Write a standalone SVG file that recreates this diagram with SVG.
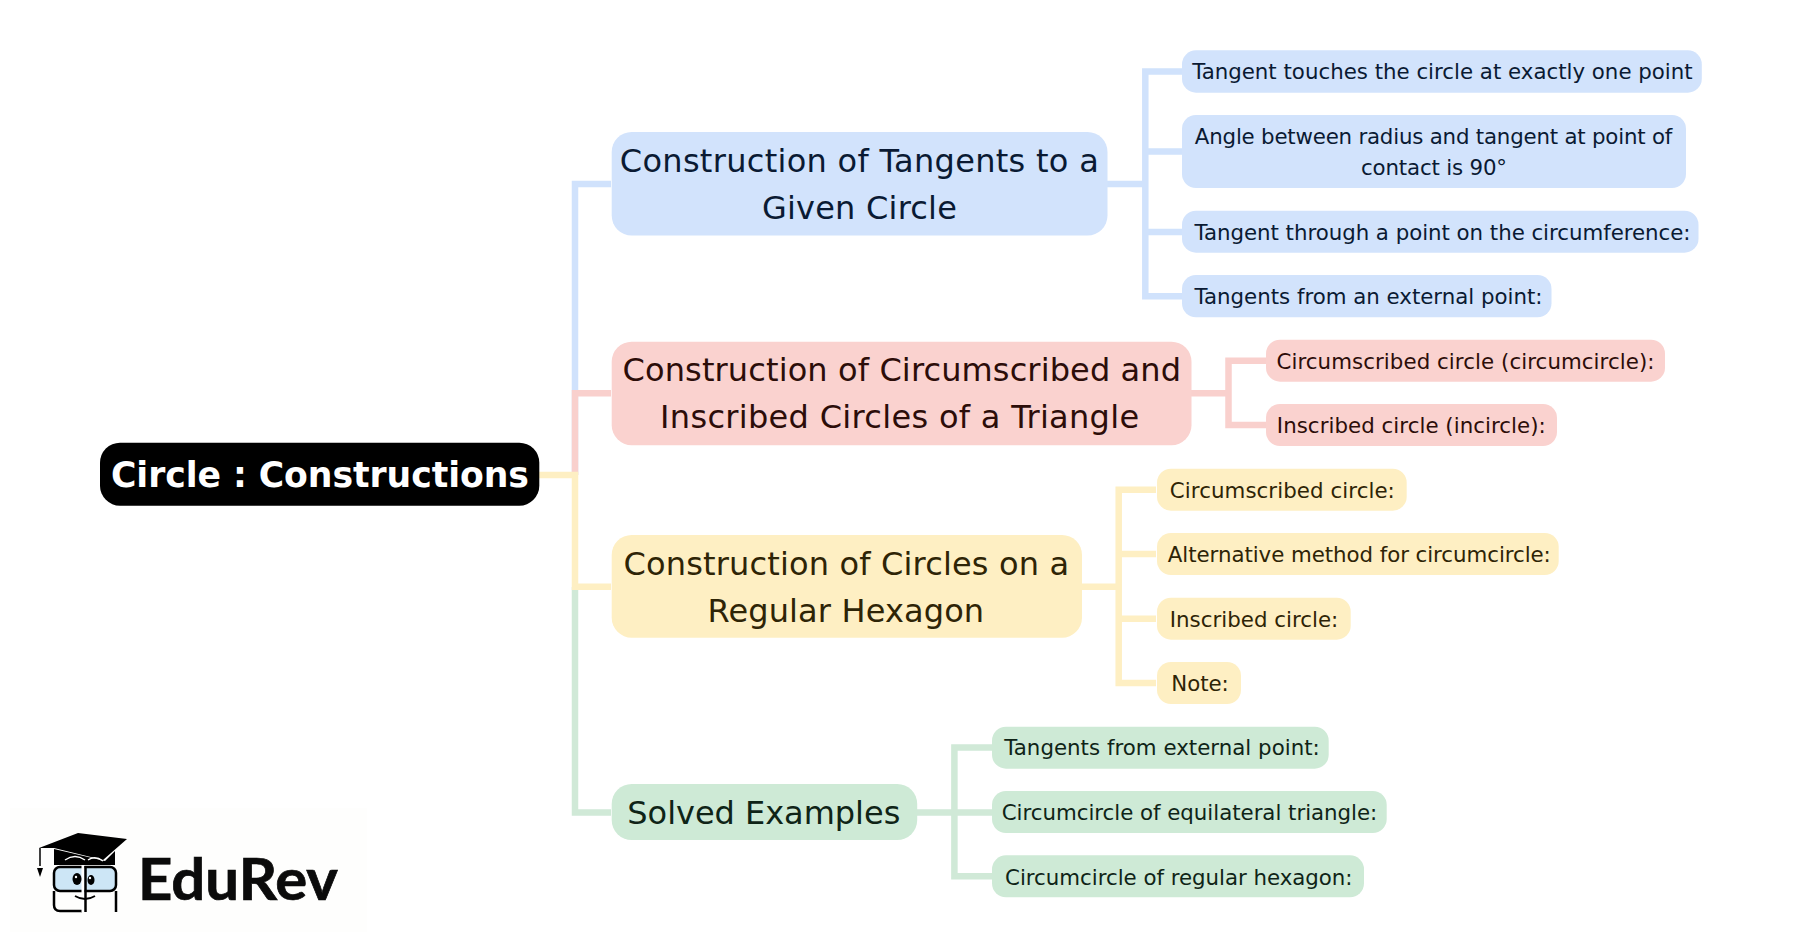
<svg xmlns="http://www.w3.org/2000/svg" width="1802" height="948" viewBox="0 0 1802 948">
<style>
text{font-family:"DejaVu Sans",sans-serif;text-anchor:middle}
.l1{font-size:32px}.l2{font-size:21.33px}
.c{fill:none;stroke-width:6.500}
.c.bl{stroke:#d0e2fc}.c.pk{stroke:#f9d0cd}.c.yl{stroke:#feefc3}.c.gr{stroke:#d0e9d7}
.nb{fill:#d2e3fc}.np{fill:#fad2cf}.ny{fill:#feefc3}.ng{fill:#ceead6}
.tb{fill:#0a1a33}.tp{fill:#2c0d09}.ty{fill:#2e2406}.tg{fill:#0f2417}
</style>
<rect width="1802" height="948" fill="#ffffff"/>
<g id="connectors">
<path class="c bl" d="M575 475V184H611M1107 184H1145.300M1182 71.500H1145.300V296.300H1182M1145.300 151.500H1182M1145.300 232H1182"/>
<path class="c pk" d="M575 475V393.200H611M1191 393.200H1228.500M1266 360.800H1228.500V425H1266"/>
<path class="c gr" d="M575 587V812.500H611M917 812.500H954.400M992 747.500H954.400V876.300H992M954.400 812.500H992"/>
<path class="c yl" d="M539 475H575V586.700H611M1081 586.700H1118.700M1156 489.700H1118.700V683H1156M1118.700 554H1156M1118.700 618.700H1156"/>
</g>
<g id="root"><rect x="100" y="442.700" width="439.300" height="63" rx="20" fill="#000"/><text x="320" y="487" font-size="34.670" font-weight="700" fill="#fff" textLength="418">Circle : Constructions</text></g>
<g id="n1"><rect class="nb" x="611.700" y="132" width="495.800" height="103.500" rx="20"/><text class="l1 tb" x="859.300" y="172" textLength="479">Construction of Tangents to a</text><text class="l1 tb" x="859.400" y="219" textLength="195">Given Circle</text></g>
<g id="n2"><rect class="np" x="611.700" y="341.700" width="579.800" height="103.500" rx="20"/><text class="l1 tp" x="901.800" y="381" textLength="558.500">Construction of Circumscribed and</text><text class="l1 tp" x="899.600" y="428" textLength="479">Inscribed Circles of a Triangle</text></g>
<g id="n3"><rect class="ny" x="611.700" y="535" width="470.300" height="102.700" rx="20"/><text class="l1 ty" x="846.300" y="575" textLength="445.700">Construction of Circles on a</text><text class="l1 ty" x="845.800" y="622" textLength="276.700">Regular Hexagon</text></g>
<g id="n4"><rect class="ng" x="611.700" y="784" width="305.500" height="56" rx="20"/><text class="l1 tg" x="763.800" y="824" textLength="273">Solved Examples</text></g>
<g id="a1"><rect class="nb" x="1182" y="50.300" width="519.800" height="42.400" rx="14"/><text class="l2 tb" x="1442.400" y="79" textLength="500.500">Tangent touches the circle at exactly one point</text></g>
<g id="a2"><rect class="nb" x="1182" y="115" width="504" height="73" rx="14"/><text class="l2 tb" x="1433.600" y="144" textLength="477.500">Angle between radius and tangent at point of</text><text class="l2 tb" x="1434" y="175" textLength="146">contact is 90°</text></g>
<g id="a3"><rect class="nb" x="1182" y="210.700" width="516.500" height="42" rx="14"/><text class="l2 tb" x="1442.500" y="240" textLength="496">Tangent through a point on the circumference:</text></g>
<g id="a4"><rect class="nb" x="1182" y="275" width="369.500" height="42.300" rx="14"/><text class="l2 tb" x="1368.500" y="304" textLength="348">Tangents from an external point:</text></g>
<g id="b1"><rect class="np" x="1266" y="339.700" width="399" height="42" rx="14"/><text class="l2 tp" x="1465.500" y="369" textLength="378">Circumscribed circle (circumcircle):</text></g>
<g id="b2"><rect class="np" x="1266" y="404" width="291" height="42" rx="14"/><text class="l2 tp" x="1411.300" y="433" textLength="269">Inscribed circle (incircle):</text></g>
<g id="c1"><rect class="ny" x="1157" y="468.700" width="249.700" height="42" rx="14"/><text class="l2 ty" x="1282.300" y="498" textLength="225">Circumscribed circle:</text></g>
<g id="c2"><rect class="ny" x="1157" y="533" width="401.700" height="42" rx="14"/><text class="l2 ty" x="1359.300" y="562" textLength="383">Alternative method for circumcircle:</text></g>
<g id="c3"><rect class="ny" x="1157" y="597.700" width="193.700" height="42" rx="14"/><text class="l2 ty" x="1254" y="627" textLength="168.500">Inscribed circle:</text></g>
<g id="c4"><rect class="ny" x="1157" y="662" width="84" height="42" rx="14"/><text class="l2 ty" x="1200" y="691" textLength="57.500">Note:</text></g>
<g id="d1"><rect class="ng" x="992" y="726.700" width="336.700" height="42" rx="14"/><text class="l2 tg" x="1162" y="755" textLength="315.500">Tangents from external point:</text></g>
<g id="d2"><rect class="ng" x="992" y="791" width="394.700" height="42" rx="14"/><text class="l2 tg" x="1189.500" y="820" textLength="375.500">Circumcircle of equilateral triangle:</text></g>
<g id="d3"><rect class="ng" x="992" y="855.300" width="372" height="42" rx="14"/><text class="l2 tg" x="1178.800" y="884.500" textLength="347.500">Circumcircle of regular hexagon:</text></g>
<g id="logo">
<rect x="10" y="808" width="357" height="124" fill="#fefefd"/>
<path d="M39 848L78 833L127 839L103 860L54 848Z" fill="#000"/>
<path d="M54 849V865H115V851L105 861Z" fill="#000"/>
<path d="M40 848V866" stroke="#000" stroke-width="1.500" fill="none"/>
<path d="M37 868H43L40 877Z" fill="#000"/>
<rect x="54" y="867" width="62" height="24" rx="6" fill="#cde6f6" stroke="#000" stroke-width="2.500"/>
<path d="M54 891V905Q54 911 60 911H82M116 891V912" fill="none" stroke="#000" stroke-width="2.500"/>
<path d="M83 865V912" stroke="#fff" stroke-width="3"/><path d="M85.500 866V912" stroke="#000" stroke-width="2.500"/>
<ellipse cx="77" cy="879" rx="4.500" ry="6" fill="#000"/><ellipse cx="91" cy="880" rx="3.500" ry="5" fill="#000"/>
<circle cx="76" cy="877" r="1.200" fill="#fff"/><circle cx="90" cy="878" r="1.200" fill="#fff"/>
<path d="M75 896Q85 902 95 896" fill="none" stroke="#000" stroke-width="1.800"/>
<path d="M65 860Q75 853 85 860M88 860Q95 855 103 861" fill="none" stroke="#fff" stroke-width="1.500"/>
<text x="238" y="900" font-size="57.500" font-weight="700" style="font-family:Lato,sans-serif" fill="#0b0b0b" stroke="#0b0b0b" stroke-width=".7" textLength="200" lengthAdjust="spacingAndGlyphs">EduRev</text>
</g>
</svg>
